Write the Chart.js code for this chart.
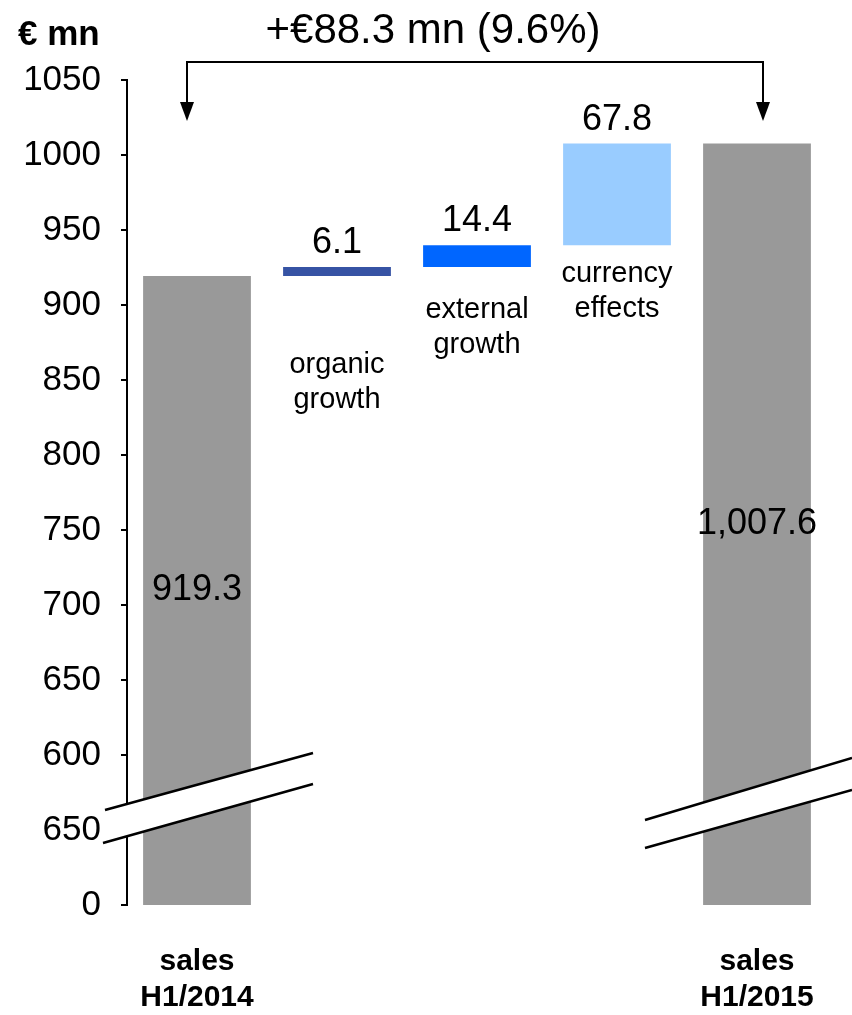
<!DOCTYPE html>
<html lang="en">
<head>
<meta charset="UTF-8">
<title>Sales bridge H1/2014 to H1/2015</title>
<script src="https://cdn.jsdelivr.net/npm/chart.js"></script>
<style>
  body { margin: 0; background: #fff; }
  canvas { display: block; }
</style>
</head>
<body>
<canvas id="bridgeChart" width="852" height="1015"></canvas>
<script>
// bridge data (€ mn)
const categories = [['sales', 'H1/2014'], ['organic', 'growth'], ['external', 'growth'], ['currency', 'effects'], ['sales', 'H1/2015']];
const salesStart = 919.3;
const changes = [6.1, 14.4, 67.8];
const salesEnd = 1007.6;
// the axis is broken: the bottom of the scale stands for zero
const axisBase = 500;
const yTickLabels = ['0', '650', '600', '650', '700', '750', '800', '850', '900', '950', '1000', '1050'];
const barColors = ['#999999', '#3653A4', '#0066FF', '#99CCFF', '#999999'];

const FONT = "'Liberation Sans', Arial, sans-serif";
Chart.defaults.font.family = FONT;

// floating bars for the steps
const values = [salesStart, ...changes, salesEnd];
const bars = [[axisBase, salesStart]];
let running = salesStart;
changes.forEach(c => { bars.push([running, running + c]); running += c; });
bars.push([axisBase, salesEnd]);

const fmt = v => v.toLocaleString('en-US', { minimumFractionDigits: 1, maximumFractionDigits: 1 });

// px below the step bar where its caption starts
const captionGap = [0, 89, 43, 29, 0];

const annotations = {
  id: 'annotations',
  afterDraw(chart) {
    const { ctx, chartArea, scales: { x, y } } = chart;
    const meta = chart.getDatasetMeta(0);
    ctx.save();

    // axis break bands
    const breaks = [
      [[105, 810], [313, 753], [313, 784], [103, 843]],
      [[645, 820], [852, 758], [852, 790], [645, 848]]
    ];
    breaks.forEach(p => {
      ctx.fillStyle = '#fff';
      ctx.beginPath();
      ctx.moveTo(p[0][0], p[0][1]);
      ctx.lineTo(p[1][0], p[1][1]);
      ctx.lineTo(p[2][0], p[2][1]);
      ctx.lineTo(p[3][0], p[3][1]);
      ctx.closePath();
      ctx.fill();
      ctx.strokeStyle = '#000';
      ctx.lineWidth = 2.5;
      ctx.beginPath();
      ctx.moveTo(p[0][0], p[0][1]); ctx.lineTo(p[1][0], p[1][1]);
      ctx.moveTo(p[3][0], p[3][1]); ctx.lineTo(p[2][0], p[2][1]);
      ctx.stroke();
    });

    ctx.fillStyle = '#000';
    ctx.textAlign = 'center';
    meta.data.forEach((bar, i) => {
      const [lo, hi] = bars[i];
      ctx.font = '36px ' + FONT;
      if (i === 0 || i === bars.length - 1) {
        ctx.textBaseline = 'middle';
        ctx.fillText(fmt(values[i]), bar.x, (y.getPixelForValue(lo) + y.getPixelForValue(hi)) / 2);
        // category under the axis
        ctx.font = 'bold 30px ' + FONT;
        categories[i].forEach((line, k) => ctx.fillText(line, bar.x, chartArea.bottom + 57 + k * 36));
      } else {
        ctx.textBaseline = 'alphabetic';
        ctx.fillText(fmt(values[i]), bar.x, y.getPixelForValue(hi) - 14);
        ctx.font = '29px ' + FONT;
        ctx.textBaseline = 'middle';
        const top = y.getPixelForValue(lo) + captionGap[i];
        categories[i].forEach((line, k) => ctx.fillText(line, bar.x, top + k * 35));
      }
    });

    // bracket from first to last bar
    const lx = x.getPixelForValue(0) - 10;
    const rx = x.getPixelForValue(categories.length - 1) + 6;
    const by = 62, tip = 121;
    ctx.strokeStyle = '#000';
    ctx.lineWidth = 2;
    ctx.beginPath();
    ctx.moveTo(lx, tip - 16); ctx.lineTo(lx, by); ctx.lineTo(rx, by); ctx.lineTo(rx, tip - 16);
    ctx.stroke();
    [lx, rx].forEach(ax => {
      ctx.beginPath();
      ctx.moveTo(ax - 7, tip - 19); ctx.lineTo(ax + 7, tip - 19); ctx.lineTo(ax, tip);
      ctx.closePath();
      ctx.fill();
    });

    const diff = salesEnd - salesStart;
    ctx.font = '42px ' + FONT;
    ctx.textBaseline = 'middle';
    ctx.fillText('+€' + fmt(diff) + ' mn (' + fmt(diff / salesStart * 100) + '%)', 433, 31);

    ctx.textAlign = 'left';
    ctx.font = 'bold 35px ' + FONT;
    ctx.fillText('€ mn', 18, 35);
    ctx.restore();
  }
};

new Chart(document.getElementById('bridgeChart'), {
  type: 'bar',
  data: {
    labels: categories,
    datasets: [{
      data: bars,
      backgroundColor: barColors,
      borderWidth: 0,
      barPercentage: 0.77,
      categoryPercentage: 1
    }]
  },
  options: {
    responsive: false,
    animation: false,
    layout: { padding: { top: 80, right: 25, left: 0, bottom: 0 } },
    plugins: { legend: { display: false }, tooltip: { enabled: false } },
    scales: {
      x: {
        grid: { display: false, drawTicks: false },
        border: { display: false },
        ticks: { display: false },
        afterFit: s => { s.height = 110; }
      },
      y: {
        min: axisBase,
        max: 1050,
        ticks: {
          stepSize: 50,
          color: '#000',
          padding: 20,
          font: { size: 35 },
          callback: (v, i) => yTickLabels[i]
        },
        grid: { drawOnChartArea: false, drawTicks: true, tickLength: 6, color: '#000', lineWidth: 2 },
        border: { display: true, color: '#000', width: 2 },
        afterFit: s => { s.width = 127; }
      }
    }
  },
  plugins: [annotations]
});
</script>
</body>
</html>
